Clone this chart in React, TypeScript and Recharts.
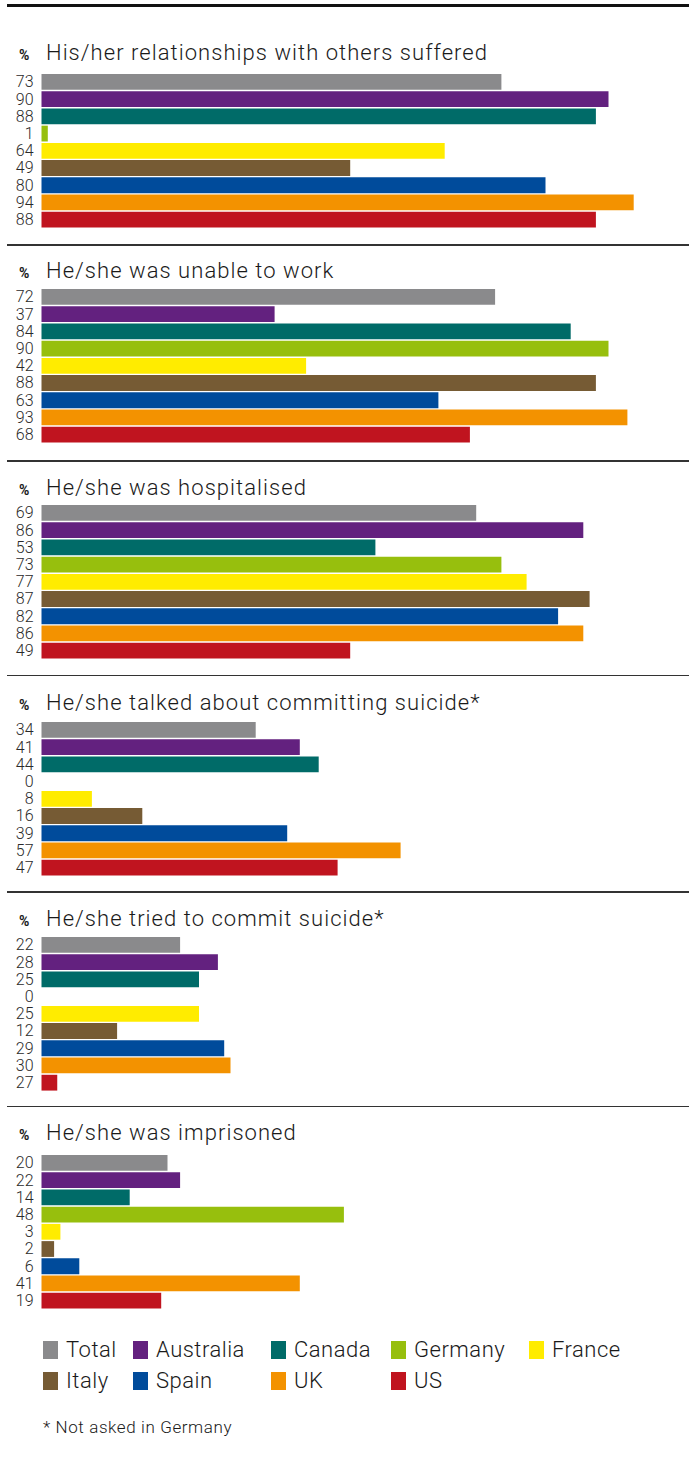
import { BarChart, Bar, XAxis, YAxis, Cell } from "recharts";

const COUNTRIES = ["Total", "Australia", "Canada", "Germany", "France", "Italy", "Spain", "UK", "US"];
const COLORS = ["#8a8a8c", "#63217f", "#006b68", "#97bf0d", "#ffec00", "#765b34", "#004b9b", "#f39200", "#c0141f"];

const TITLES = [
  "His/her relationships with others suffered",
  "He/she was unable to work",
  "He/she was hospitalised",
  "He/she talked about committing suicide*",
  "He/she tried to commit suicide*",
  "He/she was imprisoned",
];

// bar lengths as drawn
const relationships = [73, 90, 88, 1, 64, 49, 80, 94, 88];
const unableToWork = [72, 37, 84, 90, 42, 88, 63, 93, 68];
const hospitalised = [69, 86, 53, 73, 77, 87, 82, 86, 49];
const talkedSuicide = [34, 41, 44, 0, 8, 16, 39, 57, 47];
const triedSuicide = [22, 28, 25, 0, 25, 12, 29, 30, 2.5];
const imprisoned = [20, 22, 14, 48, 3, 2, 6, 41, 19];

// printed labels (the US bar in "tried" is drawn short but labelled 27)
const relationshipsLabels = ["73", "90", "88", "1", "64", "49", "80", "94", "88"];
const unableToWorkLabels = ["72", "37", "84", "90", "42", "88", "63", "93", "68"];
const hospitalisedLabels = ["69", "86", "53", "73", "77", "87", "82", "86", "49"];
const talkedSuicideLabels = ["34", "41", "44", "0", "8", "16", "39", "57", "47"];
const triedSuicideLabels = ["22", "28", "25", "0", "25", "12", "29", "30", "27"];
const imprisonedLabels = ["20", "22", "14", "48", "3", "2", "6", "41", "19"];

const SERIES = [relationships, unableToWork, hospitalised, talkedSuicide, triedSuicide, imprisoned];
const LABELS = [
  relationshipsLabels,
  unableToWorkLabels,
  hospitalisedLabels,
  talkedSuicideLabels,
  triedSuicideLabels,
  imprisonedLabels,
];

// layout (page px)
const TITLE_Y = [52, 270, 487, 702, 918, 1132];
const BAR_TOP = [72.7, 287.7, 504.3, 720.7, 936, 1154];
const SEPARATORS = [245, 461, 675.7, 892, 1106.5];
const FONT = "Roboto, 'Liberation Sans', sans-serif";
const CHART_H = 155;

function Panel({ idx }: { idx: number }) {
  const data = COUNTRIES.map((c, i) => ({ name: c, value: SERIES[idx][i] }));
  const labels = LABELS[idx];
  return (
    <>
      <div
        style={{
          position: "absolute",
          left: 19,
          top: TITLE_Y[idx] - 13.5,
          height: 28,
          display: "flex",
          alignItems: "baseline",
          whiteSpace: "nowrap",
          color: "#1a1a1a",
        }}
      >
        <span style={{ width: 27, fontSize: 14, fontWeight: 700 }}>%</span>
        <span style={{ fontSize: 22, fontWeight: 300, letterSpacing: 1.05, lineHeight: "28px" }}>{TITLES[idx]}</span>
      </div>
      <div style={{ position: "absolute", left: 0, top: BAR_TOP[idx] }}>
        <BarChart
          width={689}
          height={CHART_H}
          data={data}
          layout="vertical"
          margin={{ top: 0, right: 17.5, bottom: 0, left: 0 }}
        >
          <XAxis type="number" domain={[0, 100]} hide />
          <YAxis
            type="category"
            dataKey="name"
            width={41.5}
            axisLine={false}
            tickLine={false}
            interval={0}
            tick={{ fontSize: 16, fill: "#2a2a2a", fontFamily: FONT, fontWeight: 300 }}
            tickFormatter={(_v: string, i: number) => labels[i]}
          />
          <Bar dataKey="value" barSize={15.8} isAnimationActive={false}>
            {data.map((d, i) => (
              <Cell key={d.name} fill={COLORS[i]} />
            ))}
          </Bar>
        </BarChart>
      </div>
    </>
  );
}

const LEGEND_COLS = [43, 133, 271, 391, 529];

export default function App() {
  return (
    <div
      style={{
        position: "absolute",
        left: 0,
        top: 0,
        width: 689,
        height: 1463,
        background: "#fff",
        fontFamily: FONT,
        overflow: "hidden",
      }}
    >
      <div style={{ position: "absolute", left: 7, right: 0, top: 4, height: 3, background: "#111" }} />
      {SEPARATORS.map((y) => (
        <div key={y} style={{ position: "absolute", left: 7, right: 0, top: y - 0.75, height: 1.5, background: "#333" }} />
      ))}
      {TITLES.map((_t, i) => (
        <Panel key={i} idx={i} />
      ))}
      {COUNTRIES.map((c, i) => {
        const row = i < 5 ? 0 : 1;
        const col = i < 5 ? i : i - 5;
        const top = row === 0 ? 1341 : 1372;
        return (
          <div key={c} style={{ position: "absolute", left: LEGEND_COLS[col], top }}>
            <div style={{ position: "absolute", left: 0, top: 0, width: 15, height: 18, background: COLORS[i] }} />
            <div
              style={{
                position: "absolute",
                left: 23,
                top: -4,
                fontSize: 22,
                fontWeight: 300,
                letterSpacing: 0.5,
                lineHeight: "26px",
                color: "#1a1a1a",
                whiteSpace: "nowrap",
              }}
            >
              {c}
            </div>
          </div>
        );
      })}
      <div
        style={{
          position: "absolute",
          left: 43,
          top: 1416,
          fontSize: 17,
          fontWeight: 300,
          letterSpacing: 0.6,
          lineHeight: "22px",
          color: "#1a1a1a",
          whiteSpace: "nowrap",
        }}
      >
        * Not asked in Germany
      </div>
    </div>
  );
}
